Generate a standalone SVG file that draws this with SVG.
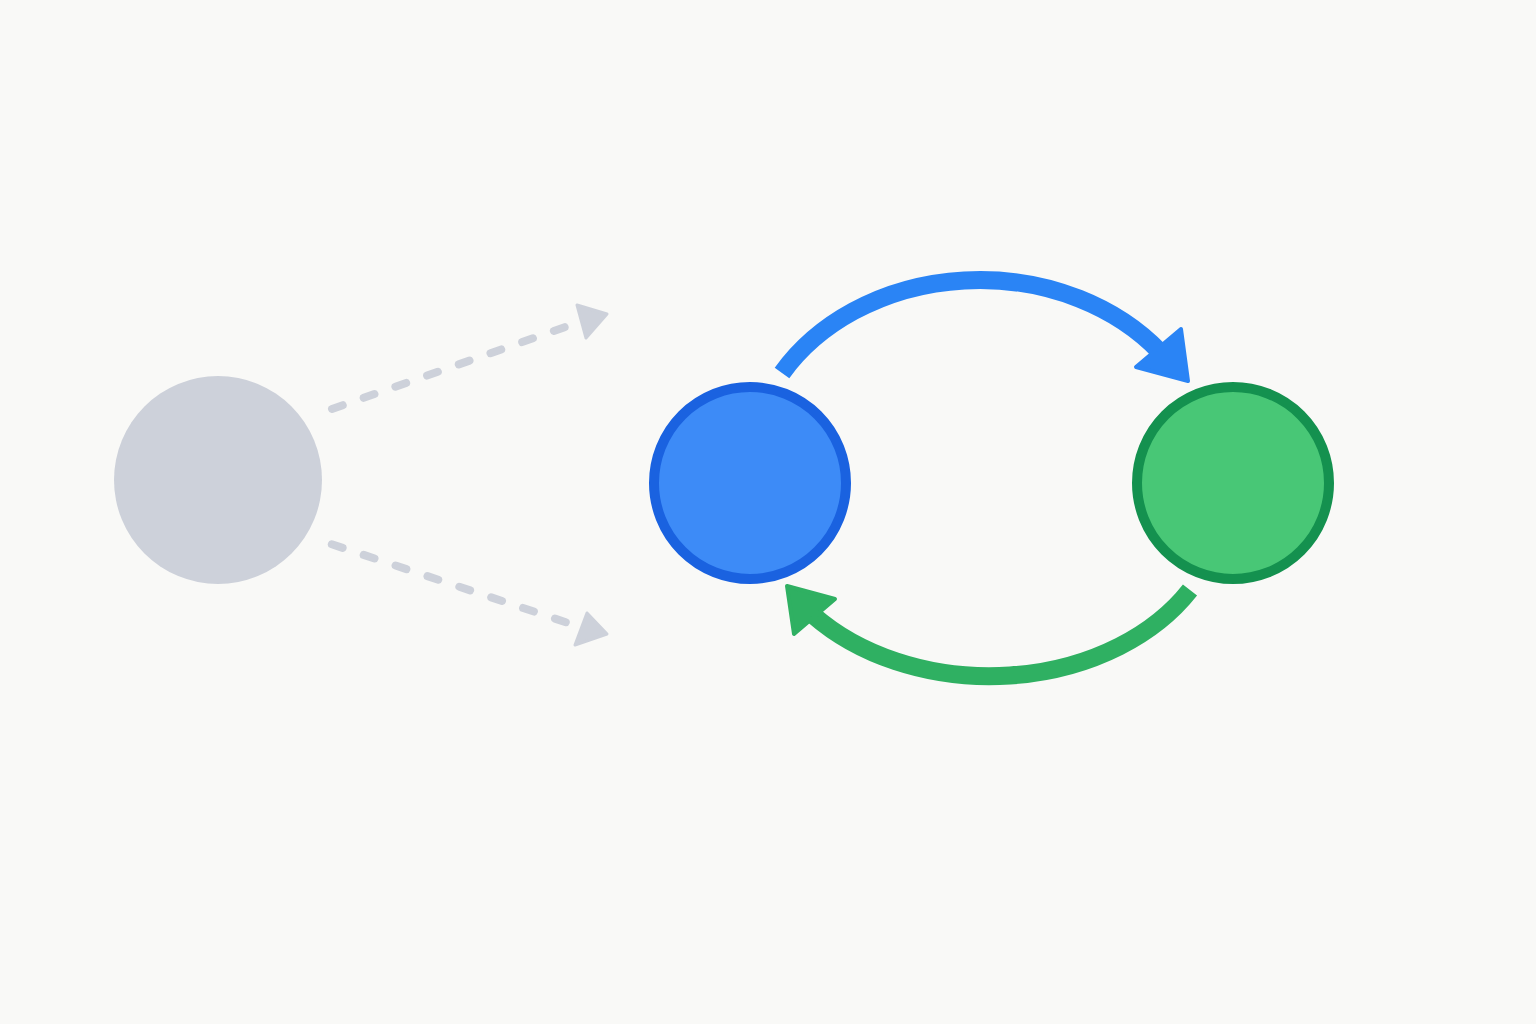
<svg xmlns="http://www.w3.org/2000/svg" width="1536" height="1024" viewBox="0 0 1536 1024">
<style>
.dash{fill:none;stroke:#cdd1da;stroke-width:8;stroke-linecap:round;stroke-dasharray:11.4 22.2}
.ghead{fill:#cdd1da;stroke:#cdd1da;stroke-width:3;stroke-linejoin:round}
.blue{fill:none;stroke:#2a84f5;stroke-width:18;stroke-linecap:butt}
.bhead{fill:#2a84f5;stroke:#2a84f5;stroke-width:4;stroke-linejoin:round}
.green{fill:none;stroke:#2fb062;stroke-width:18;stroke-linecap:butt}
.gnhead{fill:#2fb062;stroke:#2fb062;stroke-width:4;stroke-linejoin:round}
</style>
<rect width="1536" height="1024" fill="#f9f9f7"/>
<g id="node-gray"><circle cx="218" cy="480" r="104" fill="#cdd1da"/></g>
<g id="node-blue"><circle cx="750" cy="483" r="96" fill="#3d8bf7" stroke="#1a62e0" stroke-width="10"/></g>
<g id="node-green"><circle cx="1233" cy="483" r="96" fill="#48c776" stroke="#14914f" stroke-width="10"/></g>
<g id="connectors">
<path class="dash" d="M332 409 L564.8 327.1"/>
<polygon class="ghead" points="577,305 607,314 586,338"/>
<path class="dash" d="M331.8 544.3 L565.8 622.2"/>
<polygon class="ghead" points="587,613 607,634 575,645"/>
<path class="blue" d="M782 373 A230 190 0 0 1 1160 352"/>
<polygon class="bhead" points="1181,329 1136,367 1188,381"/>
<path class="green" d="M1190 590 A233 176 0 0 1 813 615"/>
<polygon class="gnhead" points="787,586 835,599 794,634"/>
</g>
</svg>
